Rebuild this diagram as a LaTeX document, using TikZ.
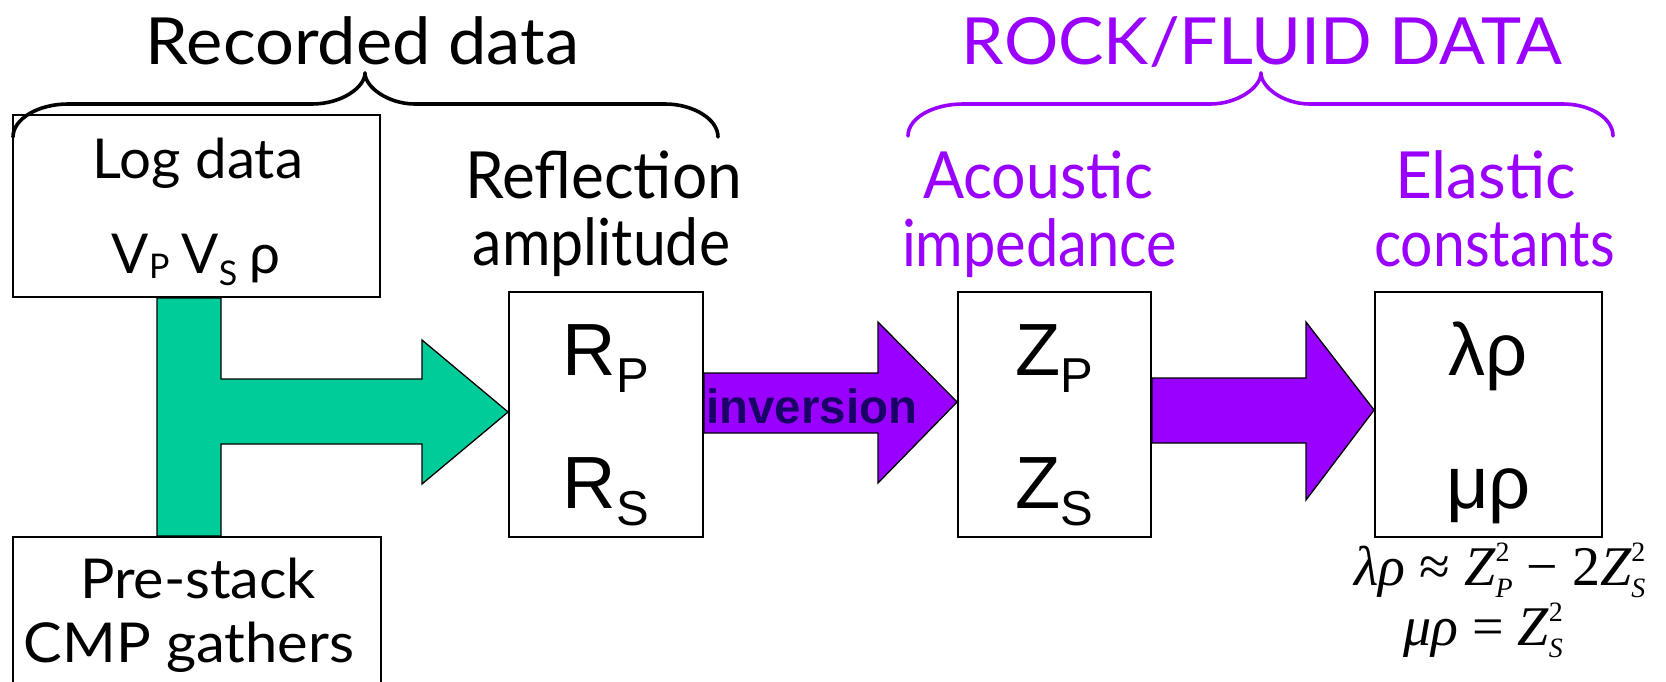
\documentclass[tikz,border=0pt]{standalone}
\usepackage{fontspec}
\usepackage{graphicx}
\usetikzlibrary{backgrounds}
\setmainfont{Lato}
\newfontfamily\arialf{Liberation Sans}
\newfontfamily\timesf{Liberation Serif}
\definecolor{flowgreen}{HTML}{00CC99}
\definecolor{rockpurple}{HTML}{9900FF}
\definecolor{invnavy}{HTML}{1A0066}
\newcommand\fs[1]{\fontsize{#1}{#1}\selectfont}
\newcommand\wfit[2]{\resizebox{#1pt}{\height}{#2}}
% Z with stacked superscript 2 and a subscript
\newcommand\zsq[1]{Z\rlap{\raisebox{24pt}{\fs{28}\upshape 2}}\raisebox{-12pt}{\fs{28}#1}}
\begin{document}
\begin{tikzpicture}[x=1pt,y=-1pt,
  box/.style={draw=black,line width=1.8pt,fill=white,rectangle,inner sep=0pt},
  blockarrow/.style={draw=black,line width=1.3pt,line join=miter},
  brace/.style={line width=3.6pt,line cap=round},
  hand/.style={inner sep=0pt,anchor=base,font=\fs{65}},
  handsmall/.style={inner sep=0pt,anchor=base,font=\fs{55}},
  sans/.style={inner sep=0pt,anchor=base,font=\arialf\fs{74}},
  formula/.style={inner sep=0pt,anchor=base,font=\timesf\itshape\fs{56}}]
\useasboundingbox (0,0) rectangle (1666,681);
\clip (0,0) rectangle (1666,681);

% boxes
\node[box,minimum width=367pt,minimum height=182pt] (logbox) at (196.5,206) {};
\node[box,minimum width=368pt,minimum height=183pt] (prebox) at (197,628.5) {};
\node[box,minimum width=194pt,minimum height=245pt] (rbox) at (606,414.5) {};
\node[box,minimum width=193pt,minimum height=245pt] (zbox) at (1054.5,414.5) {};
\node[box,minimum width=227pt,minimum height=245pt] (ebox) at (1488.5,414.5) {};

% block arrows behind the boxes
\begin{pgfonlayer}{background}
\draw[blockarrow,fill=flowgreen] (logbox.south -| 157,0) -- (logbox.south -| 221,0)
  -- (221,379) -- (422,379) -- (422,340) -- (rbox.west |- 0,412) -- (422,484)
  -- (422,444) -- (221,444) -- (prebox.north -| 221,0) -- (prebox.north -| 157,0) -- cycle;
\draw[blockarrow,fill=rockpurple] (rbox.east |- 0,373) -- (878,373) -- (878,322)
  -- (zbox.west |- 0,402) -- (878,483) -- (878,433) -- (rbox.east |- 0,433) -- cycle;
\draw[blockarrow,fill=rockpurple] (zbox.east |- 0,378) -- (1306,378) -- (1306,322)
  -- (ebox.west |- 0,410) -- (1306,500) -- (1306,443) -- (zbox.east |- 0,443) -- cycle;
\end{pgfonlayer}

% braces
\coordinate (recL) at (13,137);
\coordinate (recT) at (365,73);
\coordinate (recR) at (718,137);
\draw[brace] (recL) .. controls (13,119) and (38,104) .. (68,104) -- (312,104)
  .. controls (342,104) and (365,87) .. (recT);
\draw[brace] (recT) .. controls (365,87) and (388,104) .. (415,104) -- (665,104)
  .. controls (693,104) and (718,119) .. (recR);
\coordinate (rockL) at (908,136);
\coordinate (rockT) at (1261,73);
\coordinate (rockR) at (1613,136);
\draw[brace,rockpurple] (rockL) .. controls (908,118) and (933,104) .. (963,104) -- (1210,104)
  .. controls (1238,104) and (1261,87) .. (rockT);
\draw[brace,rockpurple] (rockT) .. controls (1261,87) and (1283,104) .. (1310,104) -- (1563,104)
  .. controls (1590,104) and (1613,118) .. (rockR);

% headings
\node[hand] (rec) at (362.5,64) {\wfit{433}{Recorded data}};
\node[hand,text=rockpurple] (rock) at (1262,64) {\wfit{600}{ROCK/FLUID DATA}};

% input boxes
\node[handsmall] (log1) at (198,178) {\wfit{210}{Log data}};
\node[handsmall] (log2) at (196,273) {V\raisebox{-5pt}{\fs{34}P}\hspace{12pt}V\raisebox{-12pt}{\fs{34}S}\hspace{12pt}ρ};
\node[handsmall] (pre1) at (198,598) {\wfit{236}{Pre-stack}};
\node[handsmall] (pre2) at (189,662) {\wfit{330}{CMP gathers}};

% column labels
\node[hand] (refl1) at (603.5,198) {\wfit{277}{Reflection}};
\node[hand] (refl2) at (601.5,265) {\wfit{257}{amplitude}};
\node[hand,text=rockpurple] (ac1) at (1038,198) {\wfit{230}{Acoustic}};
\node[hand,text=rockpurple] (ac2) at (1039.5,266) {\wfit{275}{impedance}};
\node[hand,text=rockpurple] (el1) at (1485.5,198) {\wfit{181}{Elastic}};
\node[hand,text=rockpurple] (el2) at (1494.5,266) {\wfit{241}{constants}};

% box contents
\node[sans] (rp) at (606,375) {R\raisebox{-17pt}{\fs{49}P}};
\node[sans] (rs) at (606,508) {R\raisebox{-17pt}{\fs{49}S}};
\node[sans] (zp) at (1054.5,375) {Z\raisebox{-17pt}{\fs{49}P}};
\node[sans] (zs) at (1054.5,508) {Z\raisebox{-17pt}{\fs{49}S}};
\node[sans] (lr) at (1488.5,375) {λρ};
\node[sans] (mr) at (1488.5,508) {μρ};

% arrow label
\node[inner sep=0pt,anchor=base west,font=\arialf\bfseries\fs{48},text=invnavy] (inv)
  at (706,423) {\wfit{211}{inversion}};

% relations
\node[formula] (f1) at (1500,585) {λρ {\upshape≈} \zsq{P} {\upshape−} {\upshape 2}\zsq{S}};
\node[formula] (f2) at (1483,645) {μρ {\upshape=} \zsq{S}};
\end{tikzpicture}
\end{document}
